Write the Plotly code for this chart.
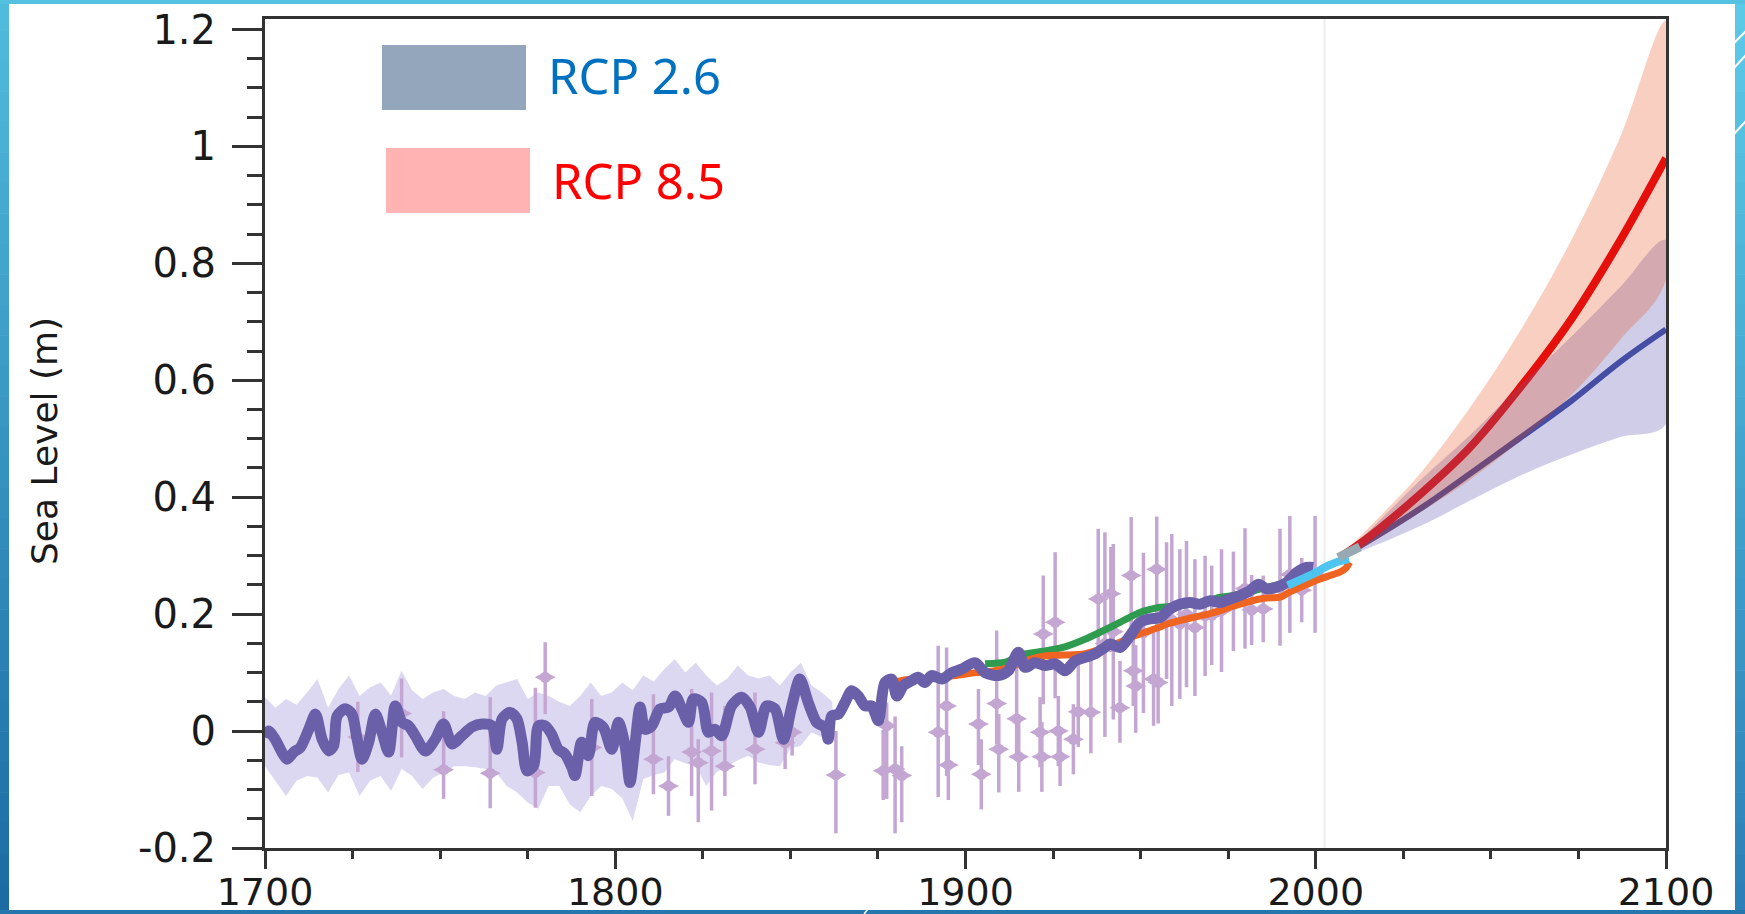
import plotly.graph_objects as go

# ---------------- data ----------------
# reconstructed global mean sea level (m), 1700-2000
recon_year = [1700, 1701.0, 1702.9, 1704.9, 1706.3, 1708.2, 1710.1, 1712.5, 1714.4, 1716.3,
              1718.2, 1719.6, 1720.6, 1722.9, 1724.8, 1726.3, 1727.7, 1729.6, 1731.5, 1733.4,
              1735.3, 1737.2, 1739.1, 1741.0, 1742.9, 1745.8, 1748.6, 1751.0, 1753.4, 1756.2,
              1759.1, 1762.0, 1764.8, 1766.2, 1767.7, 1770.0, 1771.9, 1773.4, 1774.8, 1776.7,
              1778.1, 1780.0, 1781.8, 1783.7, 1785.6, 1787.6, 1788.5, 1790.4, 1792.3, 1794.2,
              1796.6, 1799.0, 1800.9, 1802.8, 1804.2, 1805.6, 1807.1, 1808.5, 1810.4, 1812.8,
              1815.2, 1817.1, 1819.0, 1820.9, 1822.3, 1824.7, 1826.6, 1828.5, 1830.4, 1833.2,
              1836.1, 1838.5, 1840.9, 1843.2, 1845.6, 1848.0, 1850.4, 1852.7, 1855.1, 1857.5,
              1859.9, 1860.8, 1861.8, 1863.7, 1865.6, 1867.5, 1869.4, 1871.3, 1873.2, 1875.1,
              1877.0, 1878.9, 1880.4, 1882.3, 1884.6, 1886.5, 1888.4, 1890.3, 1893.2, 1896.1,
              1898.9, 1902.7, 1905.6, 1909.4, 1912.2, 1915.1, 1917.0, 1919.8, 1922.7, 1925.6,
              1928.4, 1931.3, 1934.1, 1937.0, 1939.8, 1941.3, 1944.1, 1947.0, 1949.8, 1952.7,
              1955.5, 1958.4, 1961.2, 1964.1, 1966.9, 1969.8, 1972.7, 1975.5, 1978.4, 1981.2,
              1983.6, 1986.0, 1988.8, 1991.7, 1994.5, 1997.4, 1999.3]
recon_sl = [-0.011, 0.000, -0.014, -0.037, -0.048, -0.036, -0.028, 0.003, 0.029, -0.014,
            -0.034, -0.025, 0.026, 0.038, 0.029, -0.014, -0.048, -0.019, 0.029, -0.002,
            -0.036, 0.043, 0.015, 0.009, -0.008, -0.034, -0.014, 0.012, -0.022, -0.008,
            0.007, 0.012, 0.009, -0.031, 0.021, 0.032, 0.021, -0.019, -0.068, -0.059,
            0.009, 0.009, -0.005, -0.031, -0.039, -0.062, -0.076, -0.019, -0.042, 0.015,
            0.006, -0.031, 0.015, -0.025, -0.088, -0.025, 0.041, 0.003, 0.009, 0.038,
            0.041, 0.060, 0.038, 0.015, 0.055, 0.049, -0.002, 0.003, -0.008, 0.043,
            0.058, 0.041, -0.002, 0.043, 0.038, -0.014, 0.043, 0.089, 0.049, 0.015,
            0.006, -0.014, 0.026, 0.029, 0.049, 0.069, 0.060, 0.043, 0.043, 0.018,
            0.083, 0.089, 0.060, 0.078, 0.086, 0.092, 0.083, 0.095, 0.089, 0.100,
            0.106, 0.117, 0.100, 0.095, 0.103, 0.135, 0.109, 0.117, 0.112, 0.115,
            0.103, 0.120, 0.126, 0.132, 0.143, 0.149, 0.143, 0.163, 0.186, 0.192,
            0.194, 0.209, 0.217, 0.220, 0.217, 0.223, 0.220, 0.226, 0.232, 0.240,
            0.251, 0.243, 0.246, 0.254, 0.271, 0.280, 0.280]

# uncertainty envelope of the reconstruction
band_year = [1700, 1703, 1706, 1709, 1712, 1715, 1718, 1721, 1724, 1727, 1730, 1733, 1736, 1739,
             1742, 1745, 1748, 1751, 1754, 1757, 1760, 1763, 1766, 1769, 1772, 1775, 1778, 1781,
             1784, 1787, 1790, 1793, 1796, 1799, 1802, 1805, 1808, 1811, 1814, 1817, 1820, 1823,
             1826, 1829, 1832, 1835, 1838, 1841, 1844, 1847, 1850, 1853, 1856, 1859, 1862]
band_hi = [0.058, 0.040, 0.055, 0.045, 0.066, 0.089, 0.040, 0.072, 0.095, 0.060, 0.075, 0.083,
           0.061, 0.103, 0.070, 0.055, 0.066, 0.072, 0.060, 0.055, 0.066, 0.060, 0.078, 0.083,
           0.089, 0.055, 0.066, 0.060, 0.050, 0.043, 0.060, 0.083, 0.060, 0.066, 0.083, 0.070,
           0.095, 0.085, 0.106, 0.123, 0.100, 0.117, 0.095, 0.078, 0.090, 0.112, 0.095, 0.090,
           0.095, 0.078, 0.100, 0.117, 0.078, 0.066, 0.050]
band_lo = [-0.060, -0.085, -0.111, -0.085, -0.077, -0.080, -0.105, -0.075, -0.071, -0.111,
           -0.085, -0.077, -0.102, -0.065, -0.077, -0.099, -0.080, -0.071, -0.060, -0.060,
           -0.062, -0.065, -0.071, -0.094, -0.105, -0.122, -0.133, -0.094, -0.094, -0.125,
           -0.139, -0.111, -0.094, -0.099, -0.115, -0.154, -0.082, -0.075, -0.071, -0.048,
           -0.055, -0.060, -0.094, -0.070, -0.060, -0.050, -0.042, -0.054, -0.058, -0.060,
           -0.030, -0.025, -0.002, -0.010, 0.000]

# proxy (salt-marsh / archaeological) estimates with error bars
proxy_year = [1726.5, 1739.0, 1751.0, 1764.3, 1777.2, 1780.0, 1793.3, 1810.9, 1815.2, 1821.8,
              1823.7, 1827.5, 1831.3, 1839.9, 1848.5, 1850.5, 1863.0, 1876.5, 1877.5, 1879.9,
              1881.8, 1892.2, 1894.6, 1895.1, 1903.7, 1904.5, 1908.9, 1909.5, 1914.6, 1915.2,
              1921.3, 1921.8, 1922.2, 1925.6, 1926.5, 1927.0, 1930.8, 1932.2, 1935.8, 1937.9,
              1939.8, 1941.5, 1942.2, 1944.1, 1947.3, 1947.9, 1948.6, 1950.8, 1953.7, 1954.6,
              1955.0, 1957.4, 1958.9, 1961.2, 1963.1, 1965.5, 1968.4, 1970.3, 1973.1, 1976.5,
              1979.8, 1981.7, 1985.0, 1989.8, 1992.6, 1996.0, 1999.8]
proxy_sl = [-0.010, 0.030, -0.066, -0.072, -0.071, 0.092, -0.028, -0.048, -0.094, -0.036,
            -0.054, -0.034, -0.060, -0.031, -0.020, -0.002, -0.075, -0.068, 0.009, -0.065,
            -0.076, -0.002, 0.043, -0.058, 0.012, -0.074, 0.047, -0.031, 0.021, -0.044,
            -0.002, -0.044, 0.166, 0.186, 0.000, -0.044, -0.014, 0.033, 0.032, 0.226,
            0.150, 0.235, 0.170, 0.040, 0.266, 0.103, 0.077, 0.168, 0.089, 0.277,
            0.083, 0.206, 0.190, 0.183, 0.200, 0.177, 0.197, 0.198, 0.206, 0.222,
            0.244, 0.207, 0.209, 0.246, 0.268, 0.241, 0.268]
proxy_err_up = [0.060, 0.060, 0.100, 0.130, 0.145, 0.060, 0.083, 0.111, 0.051, 0.108,
                0.040, 0.100, 0.103, 0.097, 0.030, 0.040, 0.075, 0.070, 0.040, 0.090,
                0.050, 0.148, 0.100, 0.050, 0.060, 0.060, 0.125, 0.060, 0.110, 0.060,
                0.060, 0.060, 0.100, 0.120, 0.060, 0.050, 0.060, 0.080, 0.100, 0.120,
                0.190, 0.080, 0.150, 0.080, 0.100, 0.060, 0.070, 0.137, 0.080, 0.090,
                0.090, 0.117, 0.147, 0.128, 0.125, 0.117, 0.103, 0.085, 0.105, 0.085,
                0.103, 0.060, 0.057, 0.100, 0.100, 0.055, 0.100]
proxy_err_dn = [0.060, 0.075, 0.050, 0.060, 0.060, 0.063, 0.083, 0.060, 0.051, 0.075,
                0.102, 0.102, 0.051, 0.060, 0.045, 0.040, 0.100, 0.050, 0.125, 0.110,
                0.080, 0.111, 0.120, 0.060, 0.070, 0.060, 0.070, 0.074, 0.060, 0.060,
                0.060, 0.060, 0.120, 0.130, 0.060, 0.050, 0.060, 0.060, 0.070, 0.100,
                0.160, 0.100, 0.150, 0.060, 0.100, 0.060, 0.080, 0.137, 0.080, 0.100,
                0.070, 0.117, 0.147, 0.128, 0.125, 0.117, 0.103, 0.085, 0.105, 0.085,
                0.103, 0.060, 0.057, 0.100, 0.100, 0.055, 0.100]

# tide-gauge reconstructions
tg1_year = [1905.6, 1911.3, 1917.0, 1922.7, 1928.4, 1934.1, 1938.4, 1941.5, 1944.1, 1947.0,
            1949.8, 1952.7, 1955.5, 1958.4, 1961.2, 1964.0, 1967.0, 1969.8, 1972.7, 1975.5,
            1978.4, 1981.2, 1984.0, 1986.9, 1989.8, 1992.0]
tg1_sl = [0.115, 0.118, 0.132, 0.137, 0.144, 0.157, 0.169, 0.178, 0.186, 0.195,
          0.203, 0.208, 0.212, 0.213, 0.214, 0.217, 0.220, 0.224, 0.229, 0.231,
          0.234, 0.238, 0.243, 0.247, 0.251, 0.254]
tg2_year = [1880.5, 1883.0, 1890.0, 1897.0, 1903.0, 1908.0, 1913.0, 1918.0, 1923.0, 1928.0,
            1934.0, 1938.4, 1941.0, 1944.1, 1947.0, 1949.8, 1952.7, 1955.5, 1958.0, 1961.2,
            1964.0, 1967.0, 1969.8, 1972.7, 1975.5, 1978.4, 1981.2, 1984.0, 1986.9, 1989.8,
            1992.6, 1995.5, 1998.3, 2001.2, 2004.0, 2006.9, 2008.5, 2009.7]
tg2_sl = [0.085, 0.088, 0.090, 0.095, 0.100, 0.103, 0.110, 0.122, 0.129, 0.130,
          0.132, 0.140, 0.145, 0.152, 0.160, 0.166, 0.172, 0.178, 0.184, 0.189,
          0.193, 0.197, 0.201, 0.206, 0.212, 0.217, 0.222, 0.226, 0.228, 0.229,
          0.238, 0.246, 0.253, 0.260, 0.266, 0.272, 0.278, 0.289]

# satellite altimetry
sat_year = [1992.0, 1995.5, 1999.3, 2003.2, 2006.4, 2009.5]
sat_sl = [0.249, 0.257, 0.269, 0.282, 0.290, 0.294]

# bridge to projections
bridge_year = [2006.4, 2009.0, 2012.6]
bridge_sl = [0.297, 0.305, 0.315]

# projections
proj_year = [2007, 2013, 2030, 2044, 2058, 2073, 2087, 2100]
rcp26_mid = [0.298, 0.318, 0.381, 0.440, 0.500, 0.565, 0.632, 0.687]
rcp26_hi = [0.300, 0.330, 0.430, 0.506, 0.589, 0.675, 0.760, 0.840]
rcp26_lo = [0.295, 0.308, 0.351, 0.394, 0.436, 0.473, 0.503, 0.525]
rcp85_mid = [0.298, 0.322, 0.406, 0.485, 0.585, 0.705, 0.840, 0.980]
rcp85_hi = [0.300, 0.335, 0.442, 0.553, 0.681, 0.840, 1.017, 1.215]
rcp85_lo = [0.295, 0.312, 0.375, 0.430, 0.495, 0.575, 0.670, 0.772]

y_ticks = [-0.2, 0, 0.2, 0.4, 0.6, 0.8, 1.0, 1.2]
y_ticktext = ["-0.2", "0", "0.2", "0.4", "0.6", "0.8", "1", "1.2"]
x_ticks = [1700, 1800, 1900, 2000, 2100]
x_ticktext = ["1700", "1800", "1900", "2000", "2100"]

legend_labels = ["RCP 2.6", "RCP 8.5"]

# ---------------- geometry ----------------
W, H = 1745, 914
L, R, T, B = 265, 79, 19, 66
PW, PH = W - L - R, H - T - B


def px_x(p):
    return (p - L) / PW


def px_y(p):
    return (H - B - p) / PH


def envelope(xs, lo, hi):
    return list(xs) + list(xs)[::-1], list(hi) + list(lo)[::-1]


fig = go.Figure()

# reconstruction envelope
ex, ey = envelope(band_year, band_lo, band_hi)
fig.add_trace(go.Scatter(x=ex, y=ey, fill="toself", fillcolor="rgba(208,203,236,0.75)",
                         line=dict(width=0), mode="lines", hoverinfo="skip"))

# proxy estimates
proxy_col = "#C4A6D3"
fig.add_trace(go.Scatter(
    x=proxy_year, y=proxy_sl, mode="markers",
    marker=dict(symbol="diamond-wide", size=15, color=proxy_col, line=dict(width=0)),
    error_y=dict(type="data", symmetric=False, array=proxy_err_up, arrayminus=proxy_err_dn,
                 color=proxy_col, thickness=3.5, width=0),
    hoverinfo="skip"))
fig.add_trace(go.Scatter(
    x=proxy_year, y=proxy_sl, mode="markers",
    marker=dict(symbol="circle", size=11, color=proxy_col, line=dict(width=0)),
    hoverinfo="skip"))

# tide gauges
fig.add_trace(go.Scatter(x=tg1_year, y=tg1_sl, mode="lines",
                         line=dict(color="#2E9B4E", width=7, shape="spline", smoothing=0.6),
                         hoverinfo="skip"))
fig.add_trace(go.Scatter(x=tg2_year, y=tg2_sl, mode="lines",
                         line=dict(color="#EE6420", width=7, shape="spline", smoothing=0.6),
                         hoverinfo="skip"))

# reconstruction
fig.add_trace(go.Scatter(x=recon_year, y=recon_sl, mode="lines",
                         line=dict(color="#6A60AA", width=11, shape="spline", smoothing=0.8),
                         hoverinfo="skip"))

# projection medians (under the translucent ranges)
fig.add_trace(go.Scatter(x=proj_year, y=rcp26_mid, mode="lines",
                         line=dict(color="#3A4A9E", width=6, shape="spline"), hoverinfo="skip"))
fig.add_trace(go.Scatter(x=proj_year, y=rcp85_mid, mode="lines",
                         line=dict(color="#E6000F", width=8, shape="spline"), hoverinfo="skip"))

# projection ranges
bx, by = envelope(proj_year, rcp26_lo, rcp26_hi)
fig.add_trace(go.Scatter(x=bx, y=by, fill="toself", fillcolor="rgba(95,88,178,0.30)",
                         line=dict(width=0, shape="spline"), mode="lines", hoverinfo="skip"))
rx, ry = envelope(proj_year, rcp85_lo, rcp85_hi)
fig.add_trace(go.Scatter(x=rx, y=ry, fill="toself", fillcolor="rgba(227,63,3,0.25)",
                         line=dict(width=0, shape="spline"), mode="lines", hoverinfo="skip"))

# satellite record and bridge
fig.add_trace(go.Scatter(x=sat_year, y=sat_sl, mode="lines",
                         line=dict(color="#4EC4F0", width=8), hoverinfo="skip"))
fig.add_trace(go.Scatter(x=bridge_year, y=bridge_sl, mode="lines",
                         line=dict(color="#97AAB4", width=9), hoverinfo="skip"))

axis_col = "#333333"
tick_font = dict(family="DejaVu Sans, Liberation Sans, Arial", size=40, color="#1a1a1a")
xtick_font = dict(family="DejaVu Sans, Liberation Sans, Arial", size=38, color="#1a1a1a")

fig.update_xaxes(range=[1700, 2100], tickvals=x_ticks, ticktext=x_ticktext,
                 ticks="outside", ticklen=18, tickwidth=2.5, tickcolor=axis_col,
                 minor=dict(dtick=25, tick0=1700, ticks="outside", ticklen=8,
                            tickwidth=2.5, tickcolor=axis_col, showgrid=False),
                 showline=True, linecolor=axis_col, linewidth=3, mirror=True,
                 showgrid=False, zeroline=False, tickfont=xtick_font, ticklabelstandoff=-10,
                 automargin=False)
fig.update_yaxes(range=[-0.2, 1.218], tickvals=y_ticks, ticktext=y_ticktext,
                 ticks="outside", ticklen=30, tickwidth=2.5, tickcolor=axis_col,
                 minor=dict(dtick=0.05, tick0=0, ticks="outside", ticklen=15,
                            tickwidth=2.5, tickcolor=axis_col, showgrid=False),
                 showline=True, linecolor=axis_col, linewidth=3, mirror=True,
                 showgrid=False, zeroline=False, tickfont=tick_font, ticklabelstandoff=8,
                 automargin=False)

shapes = []
# faint divider at the end of the observed record
shapes.append(dict(type="line", xref="x", yref="paper", x0=2002.5, x1=2002.5, y0=0, y1=1,
                   line=dict(color="#EEEEEE", width=2), layer="below"))

# legend swatches
shapes.append(dict(type="rect", xref="paper", yref="paper",
                   x0=px_x(382), x1=px_x(526), y0=px_y(110), y1=px_y(45),
                   fillcolor="#94A6BC", line=dict(width=0), layer="above"))
shapes.append(dict(type="rect", xref="paper", yref="paper",
                   x0=px_x(386), x1=px_x(530), y0=px_y(213), y1=px_y(148),
                   fillcolor="#FFB3B3", line=dict(width=0), layer="above"))


def mix(c0, c1, t):
    return "rgb(%d,%d,%d)" % tuple(round(a + (b - a) * t) for a, b in zip(c0, c1))


# slide frame: gradient side bars and thin top/bottom bars
n_seg = 30
for i in range(n_seg):
    y0p, y1p = H * i / n_seg, H * (i + 1) / n_seg + 0.5
    t = (i + 0.5) / n_seg
    shapes.append(dict(type="rect", xref="paper", yref="paper",
                       x0=px_x(0), x1=px_x(9), y0=px_y(y1p), y1=px_y(y0p),
                       fillcolor=mix((82, 188, 221), (27, 106, 162), t),
                       line=dict(width=0), layer="above"))
    shapes.append(dict(type="rect", xref="paper", yref="paper",
                       x0=px_x(1735), x1=px_x(1745), y0=px_y(y1p), y1=px_y(y0p),
                       fillcolor=mix((92, 203, 232), (43, 127, 182), t),
                       line=dict(width=0), layer="above"))
shapes.append(dict(type="rect", xref="paper", yref="paper",
                   x0=px_x(0), x1=px_x(1745), y0=px_y(4), y1=px_y(0),
                   fillcolor="#55C1E0", line=dict(width=0), layer="above"))
shapes.append(dict(type="rect", xref="paper", yref="paper",
                   x0=px_x(0), x1=px_x(1745), y0=px_y(914), y1=px_y(910),
                   fillcolor="#2676AE", line=dict(width=0), layer="above"))
for (ax0, ay0, ax1, ay1) in [(1734, 43, 1746, 31), (1734, 68, 1746, 55), (1734, 134, 1746, 121)]:
    shapes.append(dict(type="line", xref="paper", yref="paper",
                       x0=px_x(ax0), y0=px_y(ay0), x1=px_x(ax1), y1=px_y(ay1),
                       line=dict(color="white", width=2), layer="above"))
shapes.append(dict(type="line", xref="paper", yref="paper",
                   x0=px_x(864), y0=px_y(914), x1=px_x(868), y1=px_y(909),
                   line=dict(color="white", width=1.5), layer="above"))

annotations = [
    dict(text="Sea Level (m)", xref="paper", yref="paper", x=px_x(44), y=px_y(441),
         textangle=-90, showarrow=False, xanchor="center", yanchor="middle",
         font=dict(family="DejaVu Sans, Liberation Sans, Arial", size=36, color="#1a1a1a")),
    dict(text=legend_labels[0], xref="paper", yref="paper", x=px_x(546), y=px_y(75),
         showarrow=False, xanchor="left", yanchor="middle",
         font=dict(family="Noto Sans, Lato, Arial", size=49, color="#0070C0")),
    dict(text=legend_labels[1], xref="paper", yref="paper", x=px_x(550), y=px_y(180),
         showarrow=False, xanchor="left", yanchor="middle",
         font=dict(family="Noto Sans, Lato, Arial", size=49, color="#FF0000")),
]

fig.update_layout(width=W, height=H, autosize=False,
                  margin=dict(l=L, r=R, t=T, b=B, pad=0),
                  paper_bgcolor="white", plot_bgcolor="white",
                  showlegend=False, shapes=shapes, annotations=annotations)

fig.write_html("out.html")
